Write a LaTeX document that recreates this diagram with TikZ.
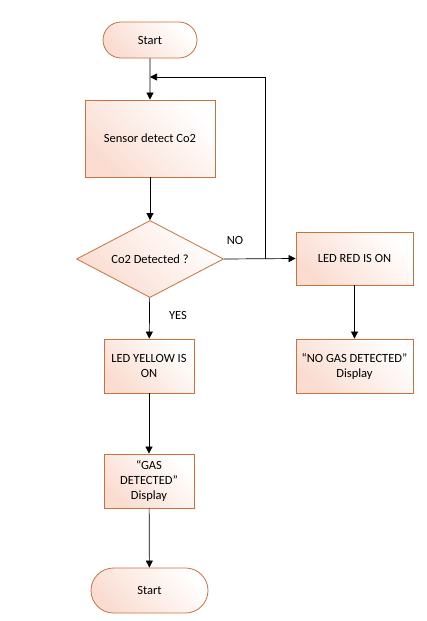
\documentclass[tikz,border=0pt]{standalone}
\usepackage{fontspec}
\setmainfont{Carlito}
\usetikzlibrary{shapes.geometric,shapes.misc,arrows.meta}
\definecolor{edge}{HTML}{C9723E}
\definecolor{pinkc}{HTML}{FADCD0}
\tikzset{
  base/.style={draw=edge, line width=0.8pt, top color=pinkc, middle color=white, bottom color=white, shading angle=135, font=\fontsize{12.5}{15}\selectfont, align=center, inner sep=0pt},
  procbox/.style={base, rectangle, minimum width=#1},
  term/.style={base, rounded rectangle, minimum width=#1},
  dec/.style={base, diamond, aspect=1.9, minimum width=147pt, minimum height=77pt},
  conn/.style={draw=black, line width=0.7pt, -{Triangle[length=7pt,width=7pt]}},
  plainline/.style={draw=black, line width=0.7pt},
  lbl/.style={font=\fontsize{12.5}{15}\selectfont}
}
\begin{document}
\begin{tikzpicture}[x=1pt,y=-1pt]
\useasboundingbox (0,0) rectangle (427,621);
\fill[white] (0,0) rectangle (427,621);
\node[term=94pt, minimum height=36pt] (start) at (150,40) {Start};
\node[procbox=130pt, minimum height=77pt] (sensor) at (150,138.5) {Sensor detect Co2};
\node[dec] (dec) at (150,259) {Co2 Detected ?};
\node[procbox=117pt, minimum height=53pt] (red) at (354.5,258.5) {LED RED IS ON};
\node[procbox=90pt, minimum height=54pt] (yellow) at (149,366) {LED YELLOW IS\\ON};
\node[procbox=117pt, minimum height=54pt] (nogas) at (354.5,366) {``NO GAS DETECTED''\\Display};
\node[procbox=90pt, minimum height=54pt] (gas) at (149,481) {``GAS\\DETECTED''\\Display};
\node[term=117pt, minimum height=45pt] (end) at (149.5,590.5) {Start};
\coordinate (j) at (265,259);
\coordinate (top) at (265,77);
\coordinate (mid) at (150,77);
\draw[conn] (start) -- (sensor);
\draw[conn] (sensor) -- (dec);
\draw[conn] (dec) -- (yellow);
\draw[conn] (yellow) -- (gas);
\draw[conn] (gas) -- (end);
\draw[conn] (dec.east) -- (red.west);
\draw[conn] (red) -- (nogas);
\draw[plainline] (j) -- (top);
\draw[conn] (top) -- (mid);
\node[lbl] (no) at (235,240) {NO};
\node[lbl] (yes) at (178,315) {YES};
\end{tikzpicture}
\end{document}
